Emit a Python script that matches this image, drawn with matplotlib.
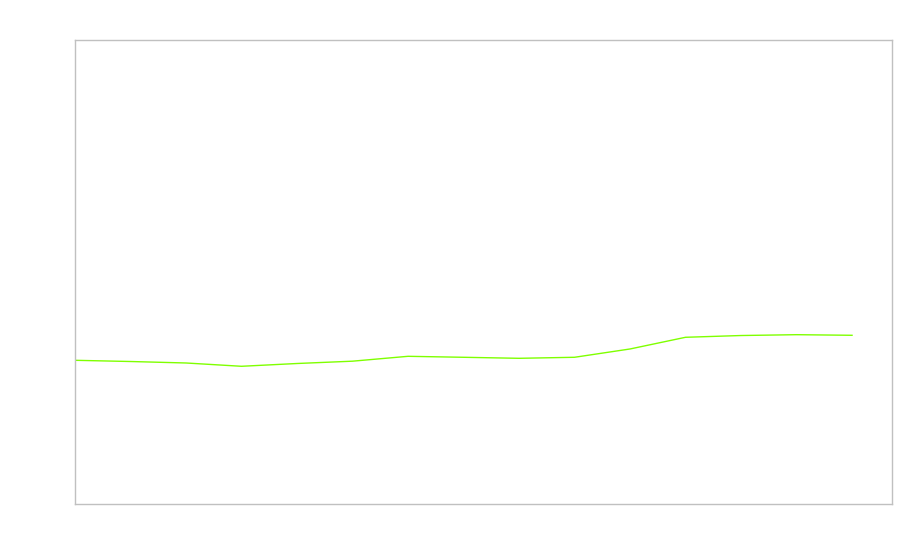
import matplotlib
matplotlib.use("Agg")
import matplotlib.pyplot as plt

x_index = list(range(15))
values = [30.97, 30.71, 30.39, 29.68, 30.28, 30.78, 31.83, 31.62, 31.40,
          31.62, 33.41, 35.93, 36.31, 36.49, 36.36]

fig = plt.figure(figsize=(9, 5.6), dpi=100)
ax = fig.add_axes([75/900, 56/560, (892-75)/900, (504-40)/560])
ax.plot(x_index, values, color="#7fff00", linewidth=1.0)
ax.set_xlim(0, 14.72)
ax.set_ylim(0, 100)
ax.set_xticks([])
ax.set_yticks([])
for s in ax.spines.values():
    s.set_color("#c0c0c0")
    s.set_linewidth(1.0)
fig.savefig("out.png", dpi=100)
